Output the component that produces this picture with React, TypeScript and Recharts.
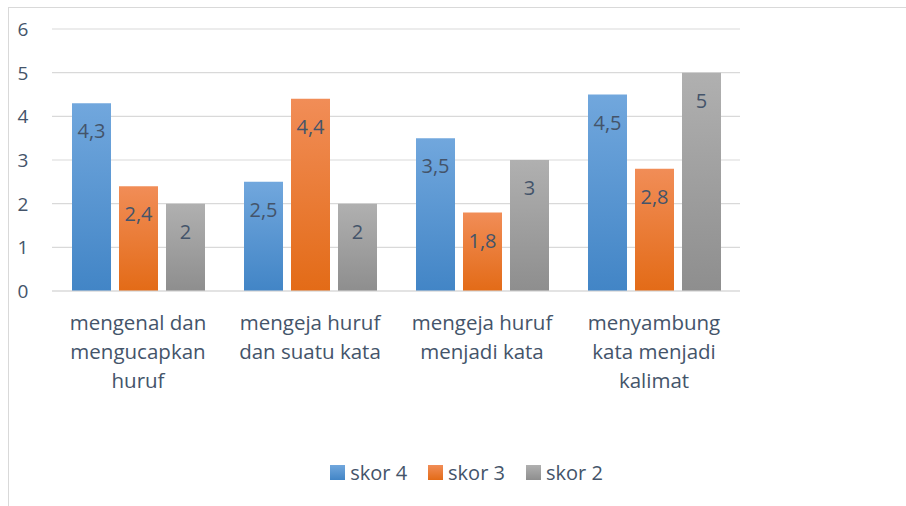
import React from "react";
import { ComposedChart, Bar, XAxis, YAxis, CartesianGrid, Legend, LabelList } from "recharts";

const categories = [
  "mengenal dan|mengucapkan|huruf",
  "mengeja huruf|dan suatu kata",
  "mengeja huruf|menjadi kata",
  "menyambung|kata menjadi|kalimat",
];
const skor4 = [4.3, 2.5, 3.5, 4.5];
const skor3 = [2.4, 4.4, 1.8, 2.8];
const skor2 = [2, 2, 3, 5];
const yTicks = [0, 1, 2, 3, 4, 5, 6];
const seriesNames = ["skor 4", "skor 3", "skor 2"];

const data = categories.map((c, i) => ({ name: c, s4: skor4[i], s3: skor3[i], s2: skor2[i] }));

const TEXT = "#44546A";
const FONT = "'Open Sans', 'Noto Sans', sans-serif";

const XTick = (props: any) => {
  const { x, y, payload } = props;
  const lines = String(payload.value).split("|");
  return (
    <text x={x} y={y} textAnchor="middle" fill={TEXT} fontSize={20.5} fontFamily={FONT}>
      {lines.map((l, i) => (
        <tspan key={i} x={x} y={y + 31 + i * 29}>{l}</tspan>
      ))}
    </text>
  );
};

const YTick = (props: any) => {
  const { y, payload } = props;
  return (
    <text x={23} y={y + 7} textAnchor="middle" fill={TEXT} fontSize={19} fontFamily={FONT}>
      {payload.value}
    </text>
  );
};

const fmt = (v: any) => String(v).replace(".", ",");

const LegendContent = (props: any) => {
  const items = [...(props.payload || [])].sort(
    (a: any, b: any) => seriesNames.indexOf(a.value) - seriesNames.indexOf(b.value)
  );
  const colors: Record<string, string> = { "skor 4": "url(#lgBlue)", "skor 3": "url(#lgOrange)", "skor 2": "url(#lgGray)" };
  return (
    <div style={{ display: "flex", justifyContent: "center", alignItems: "center", fontFamily: FONT, fontSize: 20, color: TEXT, paddingLeft: 27 }}>
      <svg width={0} height={0} style={{ position: "absolute" }}>
        <defs>
          <linearGradient id="lgBlue" x1="0" y1="0" x2="0" y2="1">
            <stop offset="0%" stopColor="#71A7DD" />
            <stop offset="100%" stopColor="#4285C6" />
          </linearGradient>
          <linearGradient id="lgOrange" x1="0" y1="0" x2="0" y2="1">
            <stop offset="0%" stopColor="#F18D57" />
            <stop offset="100%" stopColor="#E36B17" />
          </linearGradient>
          <linearGradient id="lgGray" x1="0" y1="0" x2="0" y2="1">
            <stop offset="0%" stopColor="#B0B0B0" />
            <stop offset="100%" stopColor="#8E8E8E" />
          </linearGradient>
        </defs>
      </svg>
      {items.map((it: any, i: number) => (
        <div key={i} style={{ display: "flex", alignItems: "center", marginRight: i < items.length - 1 ? 21 : 0 }}>
          <svg width={15} height={15} style={{ marginRight: 5 }}>
            <rect width={15} height={15} fill={colors[it.value]} />
          </svg>
          <span>{it.value}</span>
        </div>
      ))}
    </div>
  );
};

export default function App() {
  return (
    <div style={{ position: "absolute", left: 0, top: 0, width: 906, height: 506, background: "#fff" }}>
      <svg width={906} height={506} style={{ position: "absolute", left: 0, top: 0 }}>
        <line x1={8.5} y1={7} x2={8.5} y2={506} stroke="#D9D9D9" strokeWidth={1} />
        <line x1={8} y1={7.5} x2={906} y2={7.5} stroke="#D9D9D9" strokeWidth={1} />
      </svg>
      <div style={{ position: "absolute", left: 0, top: 0 }}>
        <ComposedChart
          width={906}
          height={506}
          data={data}
          margin={{ top: 29, right: 166, bottom: 185, left: 0 }}
          barSize={39}
          barGap={8}
        >
          <defs>
            <linearGradient id="gBlue" x1="0" y1="0" x2="0" y2="1">
              <stop offset="0%" stopColor="#71A7DD" />
              <stop offset="100%" stopColor="#4285C6" />
            </linearGradient>
            <linearGradient id="gOrange" x1="0" y1="0" x2="0" y2="1">
              <stop offset="0%" stopColor="#F18D57" />
              <stop offset="100%" stopColor="#E36B17" />
            </linearGradient>
            <linearGradient id="gGray" x1="0" y1="0" x2="0" y2="1">
              <stop offset="0%" stopColor="#B0B0B0" />
              <stop offset="100%" stopColor="#8E8E8E" />
            </linearGradient>
          </defs>
          <CartesianGrid vertical={false} stroke="#D9D9D9" strokeWidth={1.2} />
          <XAxis dataKey="name" tick={<XTick />} tickLine={false} axisLine={{ stroke: "#D9D9D9", strokeWidth: 1.2 }} interval={0} height={30} />
          <YAxis width={52} domain={[0, 6]} ticks={yTicks} tick={<YTick />} tickLine={false} axisLine={false} />
          <Legend
            verticalAlign="middle"
            align="center"
            layout="horizontal"
            content={<LegendContent />}
            wrapperStyle={{ position: "absolute", top: 459, left: 0, width: 906 }}
          />
          <Bar dataKey="s4" name="skor 4" fill="url(#gBlue)" isAnimationActive={false}>
            <LabelList dataKey="s4" position="insideTop" offset={21} formatter={fmt} fill={TEXT} fontSize={20} fontFamily={FONT} />
          </Bar>
          <Bar dataKey="s3" name="skor 3" fill="url(#gOrange)" isAnimationActive={false}>
            <LabelList dataKey="s3" position="insideTop" offset={21} formatter={fmt} fill={TEXT} fontSize={20} fontFamily={FONT} />
          </Bar>
          <Bar dataKey="s2" name="skor 2" fill="url(#gGray)" isAnimationActive={false}>
            <LabelList dataKey="s2" position="insideTop" offset={21} formatter={fmt} fill={TEXT} fontSize={20} fontFamily={FONT} />
          </Bar>
        </ComposedChart>
      </div>
    </div>
  );
}
